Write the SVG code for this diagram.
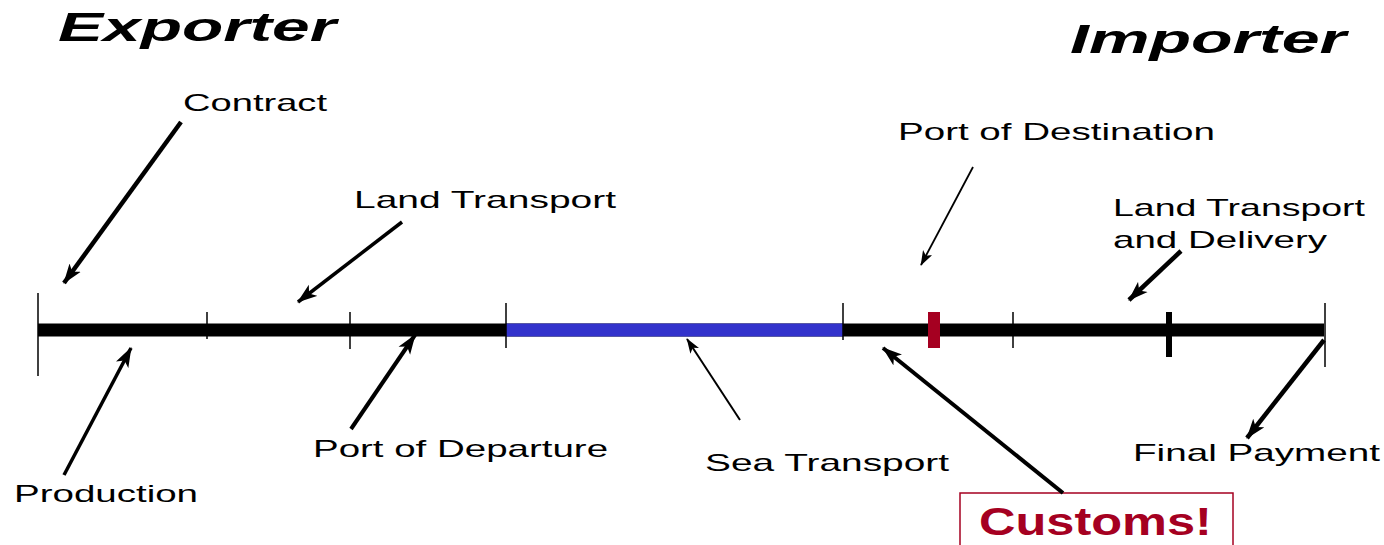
<svg xmlns="http://www.w3.org/2000/svg" width="1384" height="545" viewBox="0 0 1384 545">
<style>
text{font-family:"Liberation Sans",Arial,sans-serif;fill:#000}
.lbl{font-size:24px}
.title{font-size:40px;font-weight:bold;font-style:italic}
.tick{stroke:#000;stroke-width:1.5}
.arr{stroke:#000;fill:none}
</style>
<defs>
<marker id="ah" markerUnits="userSpaceOnUse" viewBox="0 0 20 14" markerWidth="20" markerHeight="15" refX="19" refY="7" orient="auto">
<path d="M0,0 L20,7 L0,14 L5,7 z" fill="#000"/>
</marker>
<marker id="ahs" markerUnits="userSpaceOnUse" viewBox="0 0 20 14" markerWidth="15" markerHeight="11" refX="19" refY="7" orient="auto">
<path d="M0,0 L20,7 L0,14 L5,7 z" fill="#000"/>
</marker>
</defs>
<rect width="1384" height="545" fill="#fff"/>

<g id="timeline">
<line x1="38" y1="330" x2="1324" y2="330" stroke="#000" stroke-width="13"/>
<line x1="506" y1="330" x2="843" y2="330" stroke="#3333CC" stroke-width="13"/>
<line class="tick" x1="38" y1="293" x2="38" y2="376"/>
<line class="tick" x1="207" y1="312" x2="207" y2="339"/>
<line class="tick" x1="350" y1="312" x2="350" y2="349"/>
<line class="tick" x1="506" y1="303" x2="506" y2="348"/>
<line class="tick" x1="843" y1="303" x2="843" y2="340"/>
<line class="tick" x1="1013" y1="312" x2="1013" y2="348"/>
<line class="tick" x1="1325" y1="303" x2="1325" y2="367"/>
<rect x="1166" y="312" width="6" height="45" fill="#000"/>
<rect x="928" y="312" width="12" height="36" fill="#A50021"/>
</g>

<g id="exporter"><text class="title" transform="translate(58,41) scale(1.7,1)" textLength="163.5" lengthAdjust="spacingAndGlyphs">Exporter</text></g>
<g id="importer"><text class="title" transform="translate(1070,53) scale(1.7,1)" textLength="162.4" lengthAdjust="spacingAndGlyphs">Importer</text></g>

<g id="contract"><text class="lbl" transform="translate(183,111) scale(1.6,1)" textLength="90" lengthAdjust="spacingAndGlyphs">Contract</text></g>
<g id="land-transport"><text class="lbl" transform="translate(354,208) scale(1.6,1)" textLength="163.75" lengthAdjust="spacingAndGlyphs">Land Transport</text></g>
<g id="production"><text class="lbl" transform="translate(14,502) scale(1.6,1)" textLength="115" lengthAdjust="spacingAndGlyphs">Production</text></g>
<g id="port-of-departure"><text class="lbl" transform="translate(313,457) scale(1.6,1)" textLength="184.4" lengthAdjust="spacingAndGlyphs">Port of Departure</text></g>
<g id="sea-transport"><text class="lbl" transform="translate(705,471) scale(1.6,1)" textLength="152.5" lengthAdjust="spacingAndGlyphs">Sea Transport</text></g>
<g id="port-of-destination"><text class="lbl" transform="translate(898,140) scale(1.6,1)" textLength="198.1" lengthAdjust="spacingAndGlyphs">Port of Destination</text></g>
<g id="land-transport-delivery">
<text class="lbl" transform="translate(1113,216) scale(1.6,1)" textLength="157.5" lengthAdjust="spacingAndGlyphs">Land Transport</text>
<text class="lbl" transform="translate(1113,248) scale(1.6,1)" textLength="133.75" lengthAdjust="spacingAndGlyphs">and Delivery</text>
</g>
<g id="final-payment"><text class="lbl" transform="translate(1133,461) scale(1.6,1)" textLength="154.4" lengthAdjust="spacingAndGlyphs">Final Payment</text></g>
<g id="customs">
<rect x="960" y="493" width="273" height="60" fill="#fff" stroke="#A50021" stroke-width="1.5"/>
<text transform="translate(979,535) scale(1.3,1)" style="font-size:39px;font-weight:bold;fill:#A50021" textLength="179.2" lengthAdjust="spacingAndGlyphs">Customs!</text>
</g>

<g id="connectors">
<line class="arr" x1="181" y1="122" x2="64" y2="283" stroke-width="4.5" marker-end="url(#ah)"/>
<line class="arr" x1="402" y1="222" x2="298" y2="302" stroke-width="3.5" marker-end="url(#ah)"/>
<line class="arr" x1="64" y1="475" x2="131" y2="348" stroke-width="3.5" marker-end="url(#ah)"/>
<line class="arr" x1="351" y1="429" x2="415" y2="335" stroke-width="4" marker-end="url(#ah)"/>
<line class="arr" x1="740" y1="420" x2="687" y2="339" stroke-width="2" marker-end="url(#ahs)"/>
<line class="arr" x1="973" y1="167" x2="921" y2="265" stroke-width="1.8" marker-end="url(#ahs)"/>
<line class="arr" x1="1181" y1="251" x2="1129" y2="300" stroke-width="4.5" marker-end="url(#ah)"/>
<line class="arr" x1="1063" y1="493" x2="883" y2="348" stroke-width="4" marker-end="url(#ah)"/>
<line class="arr" x1="1324" y1="340" x2="1247" y2="438" stroke-width="4.5" marker-end="url(#ah)"/>
</g>
</svg>
